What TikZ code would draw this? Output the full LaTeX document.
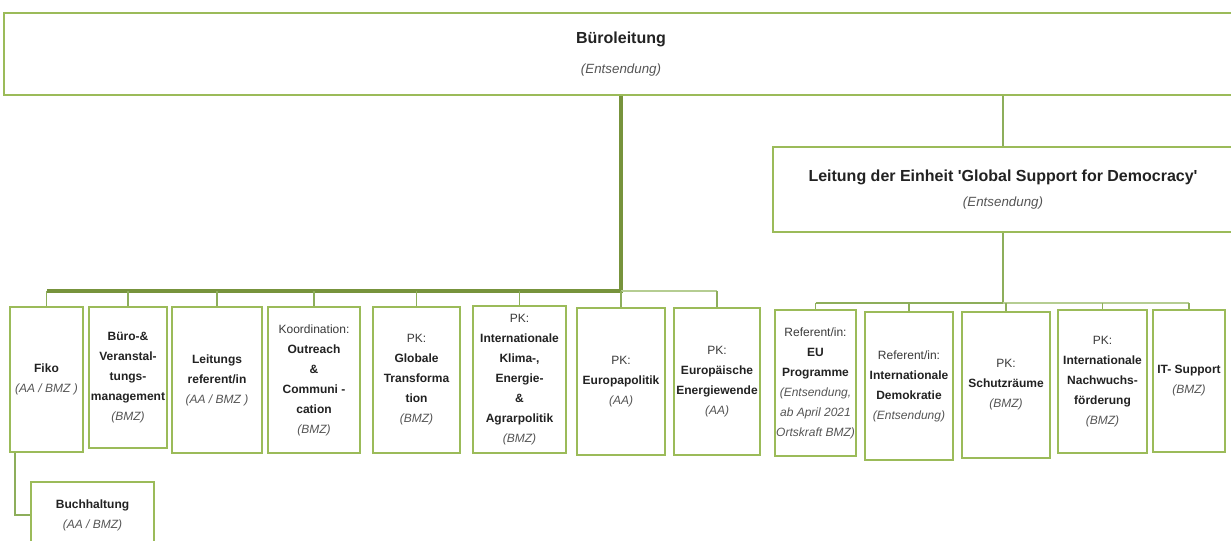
\documentclass[tikz,border=0pt]{standalone}
\usepackage{fontspec}
\setmainfont{Liberation Sans}

\definecolor{boxgreen}{HTML}{9BBB59}
\definecolor{darkgreen}{HTML}{77933C}
\definecolor{midgreen}{HTML}{8DAE5B}
\definecolor{lightgreen}{HTML}{B5CD92}
\definecolor{textdark}{HTML}{222222}
\definecolor{subgray}{HTML}{555555}
\definecolor{rolegray}{HTML}{3A3A3A}

\newcommand{\geber}[1]{{\mdseries\itshape\color{subgray}#1}}
\newcommand{\rolle}[1]{{\mdseries\color{rolegray}#1}}

\tikzset{
	groesse/.style 2 args={minimum width=#1*0.75pt, minimum height=#2*0.75pt},
	stelle/.style={draw=boxgreen, line width=1.2pt, fill=white, inner sep=1pt, align=center,
		font=\fontsize{9}{15}\selectfont\bfseries, text=textdark},
	kopf/.style={stelle, font=\fontsize{12}{14}\selectfont\bfseries},
	mainline/.style={draw=darkgreen, line width=2.6pt},
	dropline/.style={draw=midgreen, line width=1.1pt},
	lightline/.style={draw=lightgreen, line width=1.5pt},
}

\begin{document}
\begin{tikzpicture}[x=0.75pt, y=-0.75pt]
	\useasboundingbox (0,0) rectangle (1231,541);

%heads
	\node[kopf, groesse={1234}{82}] (bl) at (621,54) {B\"uroleitung\\[9pt]\geber{\fontsize{10}{12}\selectfont(Entsendung)}};
	\node[kopf, groesse={460}{85}] (gsd) at (1003,189.5) {Leitung der Einheit \textquotesingle Global Support for Democracy\textquotesingle\\[5pt]\geber{\fontsize{10}{12}\selectfont(Entsendung)}};

%left group
	\node[stelle, groesse={73}{145}] (fiko) at (46.5,379.5) {Fiko\\\geber{(AA / BMZ )}};
	\node[stelle, groesse={78}{141}] (buero) at (128,377.5) {B\"uro-\&\\Veranstal-\\tungs-\\management\\\geber{(BMZ)}};
	\node[stelle, groesse={90}{146}] (leitref) at (217,380) {Leitungs\\referent/in\\\geber{(AA / BMZ )}};
	\node[stelle, groesse={92}{146}] (koord) at (314,380) {\rolle{Koordination:}\\Outreach\\\&\\Communi -\\cation\\\geber{(BMZ)}};
	\node[stelle, groesse={87}{146}] (globtrans) at (416.5,380) {\rolle{PK:}\\Globale\\Transforma\\tion\\\geber{(BMZ)}};
	\node[stelle, groesse={93}{147}] (klima) at (519.5,379.5) {\rolle{PK:}\\Internationale\\Klima-,\\Energie-\\\&\\Agrarpolitik\\\geber{(BMZ)}};
	\node[stelle, groesse={88}{147}] (europa) at (621,381.5) {\rolle{PK:}\\Europapolitik\\\geber{(AA)}};
	\node[stelle, groesse={86}{147}] (energie) at (717,381.5) {\rolle{PK:}\\Europ\"aische\\Energiewende\\\geber{(AA)}};
	\node[stelle, groesse={123}{66}] (buch) at (92.5,515) {Buchhaltung\\\geber{(AA / BMZ)}};

%right group
	\node[stelle, groesse={81}{146}] (euprog) at (815.5,383) {\rolle{Referent/in:}\\EU\\Programme\\\geber{(Entsendung,}\\\geber{ab April 2021}\\\geber{Ortskraft BMZ)}};
	\node[stelle, groesse={88}{148}] (demokratie) at (909,386) {\rolle{Referent/in:}\\Internationale\\Demokratie\\\geber{(Entsendung)}};
	\node[stelle, groesse={88}{146}] (schutz) at (1006,385) {\rolle{PK:}\\Schutzr\"aume\\\geber{(BMZ)}};
	\node[stelle, groesse={89}{143}] (nachwuchs) at (1102.5,381.5) {\rolle{PK:}\\Internationale\\Nachwuchs-\\f\"orderung\\\geber{(BMZ)}};
	\node[stelle, groesse={72}{142}] (itsupport) at (1189,381) {IT- Support\\\geber{(BMZ)}};

%lines
	\coordinate (busL) at (0,291);
	\coordinate (busR) at (0,303);

	\draw[mainline] (europa.north |- bl.south) -- (europa.north |- busL) -- (fiko.north |- busL);
	\draw[lightline] (europa.north |- busL) -- (energie.north |- busL);
	\foreach \name in {fiko, buero, leitref, koord, globtrans, klima, europa, energie}{
		\draw[dropline] (\name.north |- busL) -- (\name.north);
	}
	\draw[dropline] ([xshift=4.5pt]fiko.south west) |- (buch.west);

	\draw[dropline] (gsd.north |- bl.south) -- (gsd.north);
	\draw[dropline] (gsd.south) -- (gsd.south |- busR);
	\draw[dropline] (euprog.north |- busR) -- (gsd.south |- busR);
	\draw[lightline] (gsd.south |- busR) -- (itsupport.north |- busR);
	\foreach \name in {euprog, demokratie, schutz, nachwuchs, itsupport}{
		\draw[dropline] (\name.north |- busR) -- (\name.north);
	}
\end{tikzpicture}
\end{document}
